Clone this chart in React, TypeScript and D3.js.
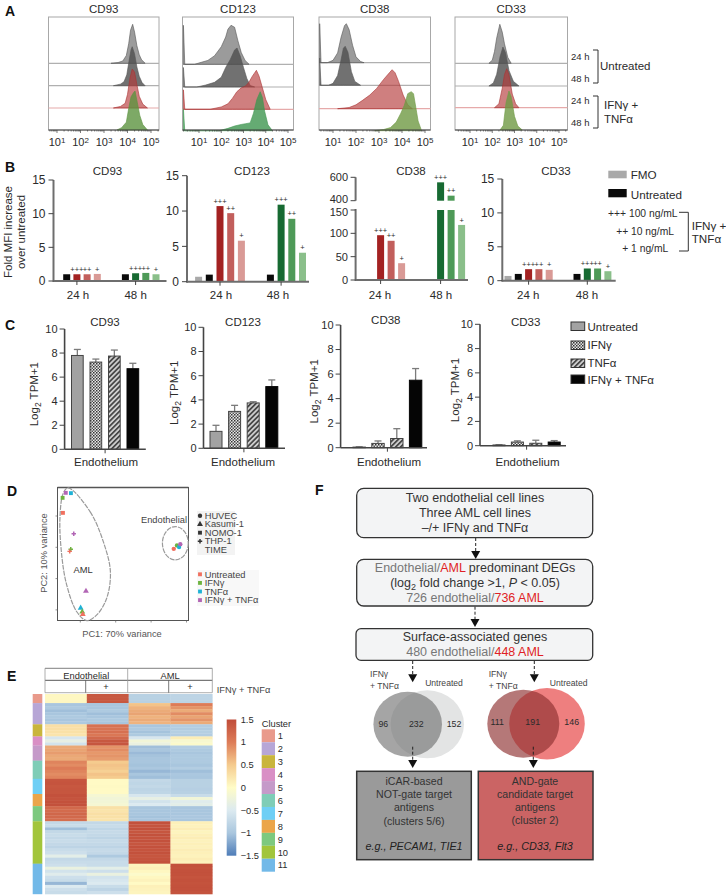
import React from 'react'
import * as d3 from 'd3'

// Panel A: histogram outlines as [log10 intensity, % of mode]
const cd93Hist = [
  [[3.3, 0], [3.6, 2], [3.8, 6], [3.95, 20], [4.05, 50], [4.13, 85], [4.22, 100], [4.3, 80], [4.4, 45], [4.5, 22], [4.6, 9], [4.75, 0]],
  [[3.4, 0], [3.7, 4], [3.85, 10], [3.97, 28], [4.07, 65], [4.15, 92], [4.2, 100], [4.3, 82], [4.4, 48], [4.5, 24], [4.62, 8], [4.75, 0]],
  [[3.4, 0], [3.7, 4], [3.9, 12], [4.0, 35], [4.1, 75], [4.2, 100], [4.3, 92], [4.4, 60], [4.5, 30], [4.65, 10], [4.85, 0]],
  [[3.55, 0], [3.75, 6], [3.95, 20], [4.05, 55], [4.15, 85], [4.25, 95], [4.32, 100], [4.42, 70], [4.52, 38], [4.65, 14], [4.85, 0]],
]
const cd123Hist = [
  [[0.3, 100], [0.36, 0], [0.8, 0], [1.1, 5], [1.4, 10], [1.7, 22], [2, 45], [2.2, 70], [2.3, 90], [2.44, 100], [2.6, 95], [2.75, 60], [2.9, 30], [3.07, 10], [3.25, 0]],
  [[0.3, 50], [0.36, 0], [0.9, 0], [1.3, 5], [1.7, 12], [2, 25], [2.2, 50], [2.4, 70], [2.6, 95], [2.71, 100], [2.85, 80], [3, 50], [3.15, 22], [3.3, 4], [3.5, 0]],
  [[0.3, 50], [0.36, 0], [1.5, 0], [2, 6], [2.3, 14], [2.5, 28], [2.7, 45], [2.9, 55], [3.1, 60], [3.25, 70], [3.4, 85], [3.58, 100], [3.7, 85], [3.85, 55], [4, 25], [4.2, 0]],
  [[0.3, 55], [0.36, 0], [1.9, 0], [2.3, 6], [2.6, 12], [2.9, 16], [3.1, 18], [3.3, 20], [3.45, 45], [3.6, 80], [3.75, 100], [3.85, 85], [3.95, 50], [4.1, 15], [4.3, 0]],
]
const cd38Hist = [
  [[0.42, 100], [0.48, 0], [0.75, 0], [1, 6], [1.2, 25], [1.35, 65], [1.5, 95], [1.58, 100], [1.7, 85], [1.85, 45], [2, 15], [2.2, 3], [2.35, 0]],
  [[0.42, 70], [0.48, 0], [0.8, 0], [1, 5], [1.2, 25], [1.35, 65], [1.45, 95], [1.53, 100], [1.65, 85], [1.8, 35], [1.95, 10], [2.2, 0]],
  [[1.2, 0], [1.7, 3], [2, 10], [2.3, 22], [2.6, 35], [2.9, 52], [3.2, 75], [3.45, 92], [3.57, 100], [3.7, 92], [3.85, 70], [4.05, 35], [4.25, 10], [4.45, 0]],
  [[2.8, 0], [3.2, 3], [3.5, 8], [3.75, 22], [3.95, 45], [4.1, 65], [4.25, 95], [4.4, 100], [4.5, 95], [4.6, 60], [4.7, 25], [4.85, 0]],
]
const cd33Hist = [
  [[1.85, 0], [2, 8], [2.1, 30], [2.2, 65], [2.34, 100], [2.45, 80], [2.55, 50], [2.7, 15], [2.85, 0]],
  [[1.85, 0], [2.05, 8], [2.2, 30], [2.35, 75], [2.48, 100], [2.6, 85], [2.75, 40], [2.95, 12], [3.2, 0]],
  [[2.1, 0], [2.3, 10], [2.45, 50], [2.55, 85], [2.65, 100], [2.75, 85], [2.9, 35], [3.05, 10], [3.2, 0]],
  [[2.35, 0], [2.5, 12], [2.62, 70], [2.75, 100], [2.85, 85], [3, 35], [3.15, 10], [3.35, 0]],
]
const decades = [1, 2, 3, 4, 5]

// Panel B: fold MFI, [FMO, untreated, 100, 10, 1 ng/mL] at 24 h, [untreated, 100, 10, 1] at 48 h
const mfiCD93 = [[0, 1, 1, 1, 1.05], [1, 1.15, 1.2, 1]]
const mfiCD123 = [[0.7, 1, 10.7, 9.7, 5.8], [1, 10.9, 8.9, 4.1]]
const mfiCD38 = [[0, 0, 96, 84, 36], [0, 557, 443, 118]]
const mfiCD33 = [[0.7, 1, 1.7, 1.7, 1.6], [1, 1.8, 1.8, 1.4]]
const plusMarks = ['+++', '++', '+']
const mfiTicks = [0, 5, 10, 15]
const cd38LowTicks = [0, 50, 100, 150]
const cd38HighTicks = [400, 600]

// Panel C: log2 TPM+1, untreated / IFNg / TNFa / both
const tpmCD93 = [7.8, 7.25, 7.75, 6.7]
const tpmCD93Err = [8.3, 7.5, 8.25, 7.15]
const tpmCD123 = [1.4, 3.05, 3.75, 5.1]
const tpmCD123Err = [1.9, 3.55, 3.85, 5.65]
const tpmCD38 = [0.05, 0.35, 0.75, 5.5]
const tpmCD38Err = [0.07, 0.55, 1.55, 6.45]
const tpmCD33 = [0.06, 0.3, 0.2, 0.3]
const tpmCD33Err = [0.08, 0.4, 0.45, 0.42]
const tpmTicks = [0, 2, 4, 6, 8, 10]
const treatments = ['Untreated', 'IFNγ', 'TNFα', 'IFNγ + TNFα']

// Panel D: PCA
const pcaSquares = [[-28.2, 17.4, 3], [-30, 15.8, 1], [-25.3, 17.3, 2], [-29.8, 11, 0]]
const pcaPlus = [[-23.7, 4.3, 3], [-25.4, -0.6, 1], [-26, -1.3, 0]]
const pcaTriangles = [[-16.8, -14, 3], [-19.8, -19.4, 2], [-18.9, -20.6, 1], [-18.6, -21.4, 0]]
const pcaCircles = [[32.8, -0.5, 0], [34.6, 0.6, 1], [35.8, 0.1, 2], [36.5, 1, 3]]
const pcaCrosses = [[38, 3.3, 3], [35.8, 2, 2], [34.8, 1.8, 1], [34.2, 1.8, 0]]
const pcaXTicks = [-20, 0, 20, 40]
const pcaYTicks = [-20, -10, 0, 10]
const amlOutline = [[-26.8, 19], [-14.5, 11.4], [-7, 1.8], [-3, -7.8], [-5.1, -16.3], [-10.7, -21.6], [-16.4, -23.4], [-22, -20.6], [-27.7, -12], [-30.5, -2.5], [-31.5, 9.3], [-29.6, 17.3]]
const cellLines = ['HUVEC', 'Kasumi-1', 'NOMO-1', 'THP-1', 'TIME']
const treatmentColors = ['#f0705f', '#6db33f', '#1fb2d6', '#b266b5']

// Panel E: heatmap rows per column
const clusterRows = [3, 7, 4, 3, 5, 6, 5, 4, 5, 14, 10]
const clusterColors = ['#e99a8b', '#b7a6d6', '#c9b53c', '#d98fc5', '#c59ac9', '#7fcdb7', '#6fcff5', '#eba54a', '#7dc97f', '#a2c53b', '#72b9e8']
const heatEndoMinus = [
  0.05, 0.05, 0.05,
  -1, -0.95, -1.05, -1, -0.95, -1, -0.95,
  0.3, 0.3, 0.28, 0.25,
  -0.55, -0.35, -0.6,
  0.72, 0.75, 0.8, 0.72, 0.7,
  0.95, 0.9, 1, 0.95, 0.9, 0.95,
  1.4, 1.42, 1.38, 1.4, 1.4,
  1.45, 1.42, 1.45, 1.45,
  1.2, 1.18, 1.22, 1.2, 1.15,
  -0.75, -0.7, -1.05, -0.75, -0.7, -0.75, -0.7, -0.75, -0.8, -0.7, -0.65, -0.4, -0.75, -0.7,
  -0.65, -0.3, -0.6, -0.45, -0.65, -0.7, -1.1, -0.5, -0.65, -0.7,
]
const heatEndoPlus = [
  1.38, 1.38, 1.38,
  -1, -1, -0.95, -1.05, -1, -0.95, -1,
  1.1, 1.08, 1.12, 1.05,
  1.2, 1.38, 1.4,
  0.85, 0.9, 0.82, 0.85, 0.8,
  0.5, 0.55, 0.52, 0.45, 0.55, 0.5,
  0.02, 0.02, 0.03, 0.02, 0.02,
  -0.15, -0.2, -0.18, -0.15,
  0.28, 0.25, 0.3, 0.28, 0.25,
  -0.75, -0.7, -0.78, -0.72, -0.75, -0.8, -0.72, -0.75, -0.8, -0.72, -0.75, -0.95, -0.75, -0.7,
  -0.7, -0.4, -0.65, -0.3, -0.6, -0.55, -0.5, -0.7, -0.8, -0.65,
]
const heatAmlMinus = [
  -0.85, -0.85, -0.85,
  0.55, 0.65, 0.7, 0.75, 0.65, 0.7, 0.65,
  -1, -0.95, -1.02, -0.95,
  -0.55, -0.2, -0.3,
  -1.05, -1, -1.08, -1.02, -1,
  -1, -1.02, -0.98, -1.1, -1, -1.05,
  -0.75, -0.78, -0.75, -0.8, -0.78,
  -0.55, -0.35, -0.6, -0.5,
  -1, -1, -1, -1.02, -1,
  1.45, 1.42, 1.45, 1.4, 1.45, 1.42, 1.45, 1.4, 1.45, 1.42, 1.45, 1.4, 1.42, 1.45,
  0.08, 0.12, 0.05, -0.05, 0.05, 0.1, 0.02, 0.12, 0.1, 0.08,
]
const heatAmlPlus = [
  -0.8, -0.8, -0.8,
  1, 0.85, 0.7, 0.9, 0.75, 0.85, 0.7,
  -0.9, -0.92, -0.88, -0.9,
  0.15, -0.1, -0.05,
  -0.9, -0.95, -1, -0.95, -0.95,
  -0.95, -1, -0.9, -1.05, -0.98, -1,
  -0.85, -0.85, -0.85, -0.87, -0.85,
  -0.7, -0.2, -0.45, -0.4,
  -1, -1, -1, -0.98, -1,
  0.12, 0.1, 0.15, 0.08, 0.12, 0.15, 0.1, 0.12, 0.1, 0.15, 0.12, 0.1, 0.15, 0.1,
  1.45, 1.43, 1.45, 1.45, 1.42, 1.45, 1.43, 1.45, 1.45, 1.43,
]
const heatColumns = [heatEndoMinus, heatEndoPlus, heatAmlMinus, heatAmlPlus]
const heatTicks = [1.5, 1, 0.5, 0, -0.5, -1, -1.5]
const heatStops = [-1.5, -1, -0.5, 0, 0.5, 1, 1.5]
const heatColors = ['#4f7db8', '#a9c6de', '#dceaf0', '#fffcc7', '#f5cb8e', '#dd7c58', '#c04c39']

// Panel F: venn counts
const vennLeft = [96, 232, 152]
const vennRight = [111, 191, 146]

const sans = '"Liberation Sans", Arial, sans-serif'
const ink = '#2b2b2b'

const heatScale = d3.scaleLinear<string>().domain(heatStops).range(heatColors)

const Txt = ({ x, y, size = 10, anchor = 'start', fill = ink, children, ...rest }: any) => (
  <text x={x} y={y} dy="0.35em" fontSize={size} textAnchor={anchor} fill={fill} fontFamily={sans} {...rest}>
    {children}
  </text>
)

const rowFills = ['#8a8a8a', '#4d4d4d', '#b53a3a']

const Histogram = ({ title, rows, box, p1, p5, base, green }: any) => {
  const x = d3.scaleLog().domain([10, 100000]).range([p1, p5])
  const y = d3.scaleLinear().domain([0, 100]).range([0, -39])
  const area = d3.area<number[]>().x(d => x(Math.pow(10, d[0]))).y0(0).y1(d => y(d[1]))
  const minor = d3.scaleLog().domain([Math.pow(10, (box[0] - p1) / ((p5 - p1) / 4) + 1), 200000]).range([box[0], x(200000)]).ticks()
  return (
    <g>
      <Txt x={(box[0] + box[1]) / 2} y={9} size={11.5} anchor="middle">{title}</Txt>
      <rect x={box[0]} y={17} width={box[1] - box[0]} height={113} fill="#fff" stroke="#a8a8a8" strokeWidth={1} />
      {rows.map((r: number[][], i: number) => (
        <g key={i} transform={`translate(0,${base[i]})`}>
          {i < 3 && <line x1={box[0]} x2={box[1]} y1={0} y2={0} stroke={i === 2 ? '#e6aaaa' : '#b0b0b0'} strokeWidth={1.2} />}
          <path
            d={area(r) as string}
            fill={i === 3 ? green : rowFills[i]}
            fillOpacity={i === 0 ? 0.85 : i === 1 ? 0.8 : i === 2 ? 0.65 : 0.8}
            stroke={i === 3 ? green : i === 2 ? '#a33' : '#555'}
            strokeWidth={0.6}
          />
        </g>
      ))}
      <line x1={box[0]} x2={box[1]} y1={130} y2={130} stroke="#444" strokeWidth={1} />
      {minor.filter((t: number) => x(t) >= box[0] && x(t) <= box[1]).map((t: number, i: number) => (
        <line key={i} x1={x(t)} x2={x(t)} y1={130} y2={decades.some(d => Math.pow(10, d) === t) ? 133 : 131.5} stroke="#444" strokeWidth={0.7} />
      ))}
      {decades.map(d => (
        <text key={d} x={x(Math.pow(10, d))} y={146} fontSize={11} textAnchor="middle" fill={ink} fontFamily={sans}>
          10<tspan dy={-3.5} fontSize={8}>{d}</tspan>
        </text>
      ))}
    </g>
  )
}

const redShades = ['#a32222', '#c25f5c', '#d99a96']
const greenShades = ['#176a32', '#4e9a58', '#8abf8a']

const MfiPanel = ({ title, titleX, data, axisX, endX, x24, x48, step, yScale, ticks, labelX, barY }: any) => {
  const slot24 = d3.scaleLinear().domain([1, 2]).range([x24, x24 + step])
  const slot48 = d3.scaleLinear().domain([0, 1]).range([x48, x48 + step])
  const y0 = yScale(0)
  const barW = 7
  const bars = (v: number, cx: number, fill: string, k: string, mark?: string) => v > 0 && (
    <g key={k}>
      {barY ? barY(v, cx, barW, fill) : <rect x={cx - barW / 2} y={yScale(v)} width={barW} height={y0 - yScale(v)} fill={fill} />}
      {mark && <Txt x={cx} y={(barY ? barY.top(v) : yScale(v)) - 5} size={7.5} anchor="middle">{mark}</Txt>}
    </g>
  )
  return (
    <g>
      <Txt x={titleX} y={171} size={11.5} anchor="middle">{title}</Txt>
      {data[0].map((v: number, i: number) => bars(v, slot24(i), i === 0 ? '#a9a9a9' : i === 1 ? '#0a0a0a' : redShades[i - 2], `a${i}`, i > 1 ? plusMarks[i - 2] : undefined))}
      {data[1].map((v: number, i: number) => bars(v, slot48(i), i === 0 ? '#0a0a0a' : greenShades[i - 1], `b${i}`, i > 0 ? plusMarks[i - 1] : undefined))}
      <line x1={axisX} x2={endX} y1={y0} y2={y0} stroke="#6e6e6e" strokeWidth={2} />
      {!barY && <line x1={axisX} x2={axisX} y1={yScale(ticks[ticks.length - 1])} y2={y0 + 1} stroke="#6e6e6e" strokeWidth={2} />}
      {!barY && ticks.map((t: number) => (
        <g key={t}>
          <line x1={axisX - 5} x2={axisX} y1={yScale(t)} y2={yScale(t)} stroke="#444" strokeWidth={1} />
          <Txt x={axisX - 8} y={yScale(t)} size={12} anchor="end">{t}</Txt>
        </g>
      ))}
      {[slot24(2), slot48(1)].map((tx: number, i: number) => (
        <line key={i} x1={tx} x2={tx} y1={y0} y2={y0 + 4} stroke="#444" strokeWidth={1} />
      ))}
      <Txt x={labelX[0]} y={295} size={11.5} anchor="middle">24 h</Txt>
      <Txt x={labelX[1]} y={295} size={11.5} anchor="middle">48 h</Txt>
    </g>
  )
}

const TpmPanel = ({ title, titleX, titleY, values, errs, axisX, endX, first, width, step, y0, y10, labelX, ylabelX }: any) => {
  const y = d3.scaleLinear().domain([0, 10]).range([y0, y10])
  const x = d3.scaleLinear().domain([0, 1]).range([first, first + step])
  const fills = ['#a2a2a2', 'url(#hatchCheck)', 'url(#hatchDiag)', '#050505']
  const midX = (x(1.5) + width / 2)
  return (
    <g>
      <Txt x={titleX} y={titleY} size={11.5} anchor="middle">{title}</Txt>
      {values.map((v: number, i: number) => (
        <g key={i}>
          <line x1={x(i) + width / 2} x2={x(i) + width / 2} y1={y(v)} y2={y(errs[i])} stroke="#7b7b7b" strokeWidth={1.3} />
          <line x1={x(i) + width / 2 - 3.5} x2={x(i) + width / 2 + 3.5} y1={y(errs[i])} y2={y(errs[i])} stroke="#7b7b7b" strokeWidth={1.3} />
          <rect x={x(i)} y={y(v)} width={width} height={y0 - y(v)} fill={fills[i]} stroke={i === 3 ? '#050505' : '#444'} strokeWidth={1} />
        </g>
      ))}
      <line x1={axisX} x2={endX} y1={y0} y2={y0} stroke="#444" strokeWidth={1.6} />
      <line x1={axisX} x2={axisX} y1={y10} y2={y0} stroke="#444" strokeWidth={1.6} />
      <line x1={midX} x2={midX} y1={y0} y2={y0 + 4} stroke="#444" strokeWidth={1} />
      {tpmTicks.map(t => (
        <g key={t}>
          <line x1={axisX - 5} x2={axisX} y1={y(t)} y2={y(t)} stroke="#444" strokeWidth={1} />
          <Txt x={axisX - 7} y={y(t)} size={11} anchor="end">{t}</Txt>
        </g>
      ))}
      <Txt x={labelX} y={462} size={11.5} anchor="middle">Endothelium</Txt>
      <text transform={`translate(${ylabelX},${(y0 + y10) / 2 + 5}) rotate(-90)`} fontSize={11.5} textAnchor="middle" fill={ink} fontFamily={sans}>
        Log<tspan dy={3} fontSize={8.5}>2</tspan><tspan dy={-3}> TPM+1</tspan>
      </text>
    </g>
  )
}

const Arrow = ({ x, y1, tip }: any) => (
  <g>
    <line x1={x} x2={x} y1={y1} y2={tip - 7} stroke="#222" strokeWidth={1} strokeDasharray="3 2" />
    <path d={`M${x - 4.5},${tip - 8} L${x + 4.5},${tip - 8} L${x},${tip} Z`} fill="#111" />
  </g>
)

const Bracket = ({ x1, x2, y1, y2, color = '#333' }: any) => (
  <path d={`M${x1},${y1} H${x2} V${y2} H${x1}`} fill="none" stroke={color} strokeWidth={1} />
)

const Mini = ({ x, y, kind, color = '#333' }: any) => {
  const types: any = { circle: d3.symbolCircle, triangle: d3.symbolTriangle, square: d3.symbolSquare, plus: d3.symbolCross, cross: d3.symbolX }
  const size = kind === 'plus' || kind === 'cross' ? 11 : 15
  const sym = d3.symbol().type(types[kind]).size(size)
  return <path transform={`translate(${x},${y})`} d={sym() as string} fill={color} />
}

const App = () => {
  // CD38 has a broken axis
  const cd38Low = d3.scaleLinear().domain([0, 150]).range([280, 210])
  const cd38High = d3.scaleLinear().domain([400, 600]).range([200.7, 177.3])
  const cd38Top = (v: number) => (v >= 400 ? cd38High(v) : cd38Low(Math.min(v, 150)))
  const cd38Bar: any = (v: number, cx: number, w: number, fill: string) => (
    <g>
      <rect x={cx - w / 2} y={cd38Low(Math.min(v, 150))} width={w} height={280 - cd38Low(Math.min(v, 150))} fill={fill} />
      {v >= 400 && <rect x={cx - w / 2} y={cd38High(v)} width={w} height={200.7 - cd38High(v)} fill={fill} />}
    </g>
  )
  cd38Bar.top = cd38Top

  const pcaX = d3.scaleLinear().domain([-20, 40]).range([80.3, 186.5])
  const pcaY = d3.scaleLinear().domain([-20, 10]).range([609.9, 516])
  const amlPath = d3.line<number[]>().x(d => pcaX(d[0])).y(d => pcaY(d[1])).curve(d3.curveCatmullRomClosed)

  const heatRows = d3.sum(clusterRows)
  const rowY = d3.scaleLinear().domain([0, heatRows]).range([694, 894])
  const heatX = d3.scaleLinear().domain([0, 4]).range([45, 212.3])
  const barY = d3.scaleLinear().domain([-1.5, 1.5]).range([855.7, 719.5])
  const clusterY = d3.scaleLinear().domain([0, 11]).range([729.3, 871.7])
  let rowStart = 0
  const clusterStarts = clusterRows.map(n => { const s = rowStart; rowStart += n; return s })

  return (
    <svg width={726} height={895} viewBox="0 0 726 895" style={{ position: 'absolute', left: 0, top: 0, display: 'block', background: '#fff' }}>
      <defs>
        <pattern id="hatchCheck" width={3} height={3} patternUnits="userSpaceOnUse">
          <rect width={3} height={3} fill="#e8e8e8" />
          <rect width={1.5} height={1.5} fill="#333" />
          <rect x={1.5} y={1.5} width={1.5} height={1.5} fill="#555" />
        </pattern>
        <pattern id="hatchDiag" width={3.5} height={3.5} patternUnits="userSpaceOnUse" patternTransform="rotate(45)">
          <rect width={3.5} height={3.5} fill="#cfcfcf" />
          <rect width={1.7} height={3.5} fill="#444" />
        </pattern>
        <linearGradient id="heatBar" x1={0} x2={0} y1={1} y2={0}>
          {heatStops.map((s, i) => <stop key={s} offset={i / 6} stopColor={heatColors[i]} />)}
        </linearGradient>
      </defs>

      {/* panel letters */}
      <Txt x={5} y={11} size={14} fontWeight="bold" fill="#111">A</Txt>
      <Txt x={5} y={167} size={14} fontWeight="bold" fill="#111">B</Txt>
      <Txt x={5} y={325} size={14} fontWeight="bold" fill="#111">C</Txt>
      <Txt x={7} y={491} size={14} fontWeight="bold" fill="#111">D</Txt>
      <Txt x={7} y={676} size={14} fontWeight="bold" fill="#111">E</Txt>
      <Txt x={315} y={490} size={14} fontWeight="bold" fill="#111">F</Txt>

      {/* A */}
      <Histogram title="CD93" rows={cd93Hist} box={[48.5, 159]} p1={57} p5={151} base={[63.3, 85.7, 108, 130]} green="#5d9440" />
      <Histogram title="CD123" rows={cd123Hist} box={[182.5, 293.5]} p1={199} p5={288} base={[64.3, 87, 109.3, 130.7]} green="#3f9650" />
      <Histogram title="CD38" rows={cd38Hist} box={[319, 430.5]} p1={333} p5={425} base={[62.7, 85.3, 108.7, 130.7]} green="#6f9a44" />
      <Histogram title="CD33" rows={cd33Hist} box={[455, 567.5]} p1={470} p5={559} base={[63.3, 86, 107.7, 130]} green="#6f9a44" />
      <Txt x={571} y={57} size={9.5}>24 h</Txt>
      <Txt x={571} y={79} size={9.5}>48 h</Txt>
      <Txt x={571} y={101} size={9.5}>24 h</Txt>
      <Txt x={571} y={123} size={9.5}>48 h</Txt>
      <Bracket x1={593} x2={598} y1={50} y2={83} />
      <Bracket x1={593} x2={598} y1={96} y2={128} />
      <Txt x={600} y={66} size={11.5}>Untreated</Txt>
      <Txt x={604} y={105} size={11.5}>IFNγ +</Txt>
      <Txt x={604} y={118.5} size={11.5}>TNFα</Txt>

      {/* B */}
      <text transform="translate(12,232) rotate(-90)" fontSize={11.5} textAnchor="middle" fill={ink} fontFamily={sans}>Fold MFI increase</text>
      <text transform="translate(25,232) rotate(-90)" fontSize={11.5} textAnchor="middle" fill={ink} fontFamily={sans}>over untreated</text>
      <MfiPanel title="CD93" titleX={107.5} data={mfiCD93} axisX={53.5} endX={166.5} x24={66.7} x48={125.4} step={10.2}
        yScale={d3.scaleLinear().domain([0, 15]).range([281, 180])} ticks={mfiTicks} labelX={[78, 135.6]} />
      <MfiPanel title="CD123" titleX={252} data={mfiCD123} axisX={187} endX={309} x24={209.3} x48={270.4} step={10.7}
        yScale={d3.scaleLinear().domain([0, 15]).range([281.7, 175.7])} ticks={mfiTicks} labelX={[221, 278]} />
      <MfiPanel title="CD38" titleX={411} data={mfiCD38} axisX={355.6} endX={468} x24={370.1} x48={430.1} step={10.5}
        yScale={cd38Low} ticks={cd38LowTicks} labelX={[380, 441]} barY={cd38Bar} />
      <line x1={355.6} x2={355.6} y1={177.3} y2={200.7} stroke="#6e6e6e" strokeWidth={2} />
      <line x1={355.6} x2={355.6} y1={209} y2={281} stroke="#6e6e6e" strokeWidth={2} />
      {cd38LowTicks.map(t => (
        <g key={t}>
          <line x1={350.6} x2={355.6} y1={cd38Low(t)} y2={cd38Low(t)} stroke="#444" strokeWidth={1} />
          <Txt x={348} y={cd38Low(t) + (t === 150 ? 2 : 0)} size={11} anchor="end">{t}</Txt>
        </g>
      ))}
      {cd38HighTicks.map(t => (
        <g key={t}>
          <line x1={350.6} x2={355.6} y1={cd38High(t)} y2={cd38High(t)} stroke="#444" strokeWidth={1} />
          <Txt x={348} y={cd38High(t) - (t === 400 ? 2 : 0)} size={11} anchor="end">{t}</Txt>
        </g>
      ))}
      <MfiPanel title="CD33" titleX={556} data={mfiCD33} axisX={502.3} endX={615.7} x24={518.3} x48={577} step={10.3}
        yScale={d3.scaleLinear().domain([0, 15]).range([280.7, 179])} ticks={mfiTicks} labelX={[528.3, 587]} />
      <rect x={608.3} y={170.7} width={18.4} height={7.6} fill="#a9a9a9" />
      <Txt x={630.7} y={175} size={11.7}>FMO</Txt>
      <rect x={608.3} y={189} width={18.4} height={8.3} fill="#0a0a0a" />
      <Txt x={630.7} y={195} size={11.7}>Untreated</Txt>
      <Txt x={608} y={213.3} size={10.3}>+++ 100 ng/mL</Txt>
      <Txt x={674} y={231} size={10.3} anchor="end">++ 10 ng/mL</Txt>
      <Txt x={668.3} y={248.3} size={10.3} anchor="end">+ 1 ng/mL</Txt>
      <Bracket x1={679} x2={688.3} y1={212.3} y2={251} />
      <Txt x={691.7} y={225.7} size={11.7}>IFNγ +</Txt>
      <Txt x={691.7} y={239} size={11.7}>TNFα</Txt>

      {/* C */}
      <TpmPanel title="CD93" titleX={105} titleY={322} values={tpmCD93} errs={tpmCD93Err} axisX={64.6} endX={145.8} first={71.5} width={11.7} step={18.5} y0={449.3} y10={329} labelX={106} ylabelX={38} />
      <TpmPanel title="CD123" titleX={243} titleY={322} values={tpmCD123} errs={tpmCD123Err} axisX={203.5} endX={285} first={210} width={12} step={18.6} y0={448.3} y10={327.3} labelX={243} ylabelX={178} />
      <TpmPanel title="CD38" titleX={385.8} titleY={320} values={tpmCD38} errs={tpmCD38Err} axisX={340.6} endX={427} first={353} width={12.4} step={18.8} y0={447.7} y10={325} labelX={389} ylabelX={318} />
      <TpmPanel title="CD33" titleX={525.6} titleY={322} values={tpmCD33} errs={tpmCD33Err} axisX={480} endX={566} first={493} width={12} step={18.4} y0={445.7} y10={324.3} labelX={527.5} ylabelX={459} />
      {treatments.map((t, i) => (
        <g key={t}>
          <rect x={571} y={[322, 341, 359, 375][i]} width={13.7} height={8.5} fill={['#a2a2a2', 'url(#hatchCheck)', 'url(#hatchDiag)', '#050505'][i]} stroke="#333" strokeWidth={1} />
          <Txt x={587.5} y={[327, 345, 363, 380][i]} size={11.5}>{t}</Txt>
        </g>
      ))}

      {/* D */}
      <rect x={57.5} y={487.5} width={131} height={133} fill="#fff" stroke="#555" strokeWidth={1} />
      <line x1={57.5} x2={188.5} y1={487.5} y2={487.5} stroke="#555" strokeWidth={1.5} />
      {pcaXTicks.map(t => <line key={t} x1={pcaX(t)} x2={pcaX(t)} y1={620.5} y2={622.5} stroke="#666" strokeWidth={0.7} />)}
      {pcaYTicks.map(t => <line key={t} x1={55.5} x2={57.5} y1={pcaY(t)} y2={pcaY(t)} stroke="#666" strokeWidth={0.7} />)}
      <path d={amlPath(amlOutline) as string} fill="none" stroke="#9a9a9a" strokeWidth={1.2} strokeDasharray="5 1" />
      <ellipse cx={pcaX(33.7)} cy={pcaY(1.3)} rx={pcaX(7.3) - pcaX(0)} ry={pcaY(0) - pcaY(5.3)} fill="none" stroke="#9a9a9a" strokeWidth={1.2} strokeDasharray="5 1" />
      {pcaSquares.map((p, i) => <Mini key={i} x={pcaX(p[0])} y={pcaY(p[1])} kind="square" color={treatmentColors[p[2]]} />)}
      {pcaPlus.map((p, i) => <Mini key={i} x={pcaX(p[0])} y={pcaY(p[1])} kind="plus" color={treatmentColors[p[2]]} />)}
      {pcaTriangles.map((p, i) => <Mini key={i} x={pcaX(p[0])} y={pcaY(p[1])} kind="triangle" color={treatmentColors[p[2]]} />)}
      {pcaCrosses.map((p, i) => <Mini key={i} x={pcaX(p[0])} y={pcaY(p[1])} kind="cross" color={treatmentColors[p[2]]} />)}
      {pcaCircles.map((p, i) => <Mini key={i} x={pcaX(p[0])} y={pcaY(p[1])} kind="circle" color={treatmentColors[p[2]]} />)}
      <Txt x={164} y={520} size={9.3} anchor="middle" fill="#444">Endothelial</Txt>
      <Txt x={83} y={570} size={9.3} anchor="middle" fill="#333">AML</Txt>
      <Txt x={122} y={634} size={9.3} anchor="middle" fill="#555">PC1: 70% variance</Txt>
      <text transform="translate(47,553) rotate(-90)" fontSize={9.3} textAnchor="middle" fill="#555" fontFamily={sans}>PC2: 10% variance</text>
      <rect x={197} y={511} width={38} height={44} fill="#f3f3f3" />
      <rect x={197} y={570} width={62} height={36} fill="#f8f8f8" />
      {cellLines.map((c, i) => (
        <g key={c}>
          <Mini x={200} y={515.7 + i * 8.5} kind={['circle', 'triangle', 'square', 'plus', 'cross'][i]} color="#333" />
          <Txt x={204.7} y={515.7 + i * 8.5} size={9.3} fill="#444">{c}</Txt>
        </g>
      ))}
      {treatments.map((t, i) => (
        <g key={t}>
          <Mini x={200} y={574.3 + i * 8.6} kind="square" color={treatmentColors[i]} />
          <Txt x={204.7} y={574.3 + i * 8.6} size={9.3} fill="#444">{t}</Txt>
        </g>
      ))}

      {/* E */}
      <line x1={45} x2={212.3} y1={668.3} y2={668.3} stroke="#999" strokeWidth={1.2} />
      <line x1={45} x2={212.3} y1={680.3} y2={680.3} stroke="#444" strokeWidth={0.9} />
      <line x1={45} x2={212.3} y1={692.7} y2={692.7} stroke="#999" strokeWidth={0.8} />
      <line x1={45} x2={45} y1={668.3} y2={692.7} stroke="#999" strokeWidth={0.8} />
      <line x1={212.3} x2={212.3} y1={668.3} y2={692.7} stroke="#999" strokeWidth={0.8} />
      <line x1={127.7} x2={127.7} y1={668.3} y2={692.7} stroke="#999" strokeWidth={0.8} />
      <line x1={85.7} x2={85.7} y1={680.3} y2={692.7} stroke="#555" strokeWidth={0.8} />
      <line x1={168.7} x2={168.7} y1={680.3} y2={692.7} stroke="#555" strokeWidth={0.8} />
      <Txt x={86.3} y={675.5} size={9.3} anchor="middle">Endothelial</Txt>
      <Txt x={170} y={675.5} size={9.3} anchor="middle">AML</Txt>
      <Txt x={106} y={687} size={9.3} anchor="middle">+</Txt>
      <Txt x={190} y={687} size={9.3} anchor="middle">+</Txt>
      <Txt x={216.7} y={690} size={9.3} fill="#444">IFNγ + TNFα</Txt>
      {heatColumns.map((col, c) => col.map((v, r) => (
        <rect key={`${c}-${r}`} x={heatX(c)} y={rowY(r)} width={heatX(c + 1) - heatX(c) + 0.3} height={rowY(r + 1) - rowY(r) + 0.3} fill={heatScale(v)} />
      )))}
      {clusterRows.map((n, i) => (
        <rect key={i} x={32.7} y={rowY(clusterStarts[i])} width={9.6} height={rowY(clusterStarts[i] + n) - rowY(clusterStarts[i]) + 0.2} fill={clusterColors[i]} />
      ))}
      <rect x={226.7} y={719.5} width={9.6} height={136.2} fill="url(#heatBar)" />
      {heatTicks.map(t => (
        <Txt key={t} x={240.7} y={barY(t)} size={9.3}>{t < 0 ? `−${Math.abs(t)}` : t}</Txt>
      ))}
      <Txt x={261.7} y={723.7} size={9.3}>Cluster</Txt>
      {clusterColors.map((c, i) => (
        <g key={c}>
          <rect x={261.7} y={clusterY(i)} width={13.3} height={clusterY(1) - clusterY(0)} fill={c} />
          <Txt x={277.7} y={clusterY(i + 0.5)} size={9.3}>{i + 1}</Txt>
        </g>
      ))}

      {/* F */}
      <rect x={356.7} y={488.3} width={236} height={49.4} rx={7} fill="#f3f4f5" stroke="#333" strokeWidth={1.3} />
      <Txt x={475} y={497.5} size={12.5} anchor="middle" fill="#333">Two endothelial cell lines</Txt>
      <Txt x={475} y={512.5} size={12.5} anchor="middle" fill="#333">Three AML cell lines</Txt>
      <Txt x={475} y={527.5} size={12.5} anchor="middle" fill="#333">–/+ IFNγ and TNFα</Txt>
      <Arrow x={475.7} y1={538} tip={559} />
      <rect x={356.7} y={559.3} width={236} height={46.7} rx={7} fill="#f3f4f5" stroke="#333" strokeWidth={1.3} />
      <Txt x={475} y={567.5} size={12.5} anchor="middle" fill="#333">
        <tspan fill="#777">Endothelial/</tspan><tspan fill="#e01f26">AML</tspan> predominant DEGs
      </Txt>
      <text x={475} y={586.5} fontSize={12.5} textAnchor="middle" fill="#333" fontFamily={sans}>
        (log<tspan dy={3} fontSize={9}>2</tspan><tspan dy={-3}> fold change &gt;1, </tspan><tspan fontStyle="italic">P</tspan> &lt; 0.05)
      </text>
      <Txt x={475} y={597.5} size={12.5} anchor="middle" fill="#777">
        726 endothelial/<tspan fill="#e01f26">736 AML</tspan>
      </Txt>
      <Arrow x={475} y1={606.7} tip={627} />
      <rect x={356} y={628.7} width={236.7} height={31.6} rx={5} fill="#f3f4f5" stroke="#333" strokeWidth={1.3} />
      <Txt x={475} y={637} size={12.5} anchor="middle" fill="#333">Surface-associated genes</Txt>
      <Txt x={475} y={651.7} size={12.5} anchor="middle" fill="#777">
        480 endothelial/<tspan fill="#e01f26">448 AML</tspan>
      </Txt>
      <Arrow x={412.7} y1={661} tip={682.3} />
      <Arrow x={534.3} y1={661} tip={682.3} />

      <ellipse cx={427.3} cy={724.3} rx={36.7} ry={34} fill="#e3e4e4" />
      <ellipse cx={407.7} cy={724.3} rx={34.3} ry={32.5} fill="#6e6e6e" fillOpacity={0.62} />
      <ellipse cx={547} cy={723.7} rx={37.8} ry={35.7} fill="#ee7f7f" />
      <ellipse cx={523.3} cy={723.7} rx={36} ry={34} fill="#8e2f2f" fillOpacity={0.65} />
      {vennLeft.map((v, i) => <Txt key={v} x={[383.3, 416.3, 454][i]} y={724.3} size={8.8} anchor="middle">{v}</Txt>)}
      {vennRight.map((v, i) => <Txt key={v} x={[497.3, 532.7, 571.7][i]} y={721.7} size={8.8} anchor="middle">{v}</Txt>)}
      <Txt x={370} y={674.3} size={8.6} fill="#444">IFNγ</Txt>
      <Txt x={370} y={686} size={8.6} fill="#444">+ TNFα</Txt>
      <Txt x={444} y={683} size={8.6} anchor="middle" fill="#444">Untreated</Txt>
      <Txt x={488.7} y={674.3} size={8.6} fill="#444">IFNγ</Txt>
      <Txt x={488.7} y={686} size={8.6} fill="#444">+ TNFα</Txt>
      <Txt x={568.7} y={683} size={8.6} anchor="middle" fill="#444">Untreated</Txt>
      <Arrow x={412.7} y1={746.7} tip={768} />
      <Arrow x={533.3} y1={746.7} tip={768} />

      <rect x={356.7} y={771.3} width={114.6} height={88.4} fill="#9a9a9a" stroke="#333" strokeWidth={1.5} />
      {['iCAR-based', 'NOT-gate target', 'antigens', '(clusters 5/6)'].map((t, i) => (
        <Txt key={t} x={414} y={781.3 + i * 13.2} size={10.6} anchor="middle" fill="#333">{t}</Txt>
      ))}
      <Txt x={414} y={846.7} size={10.8} anchor="middle" fill="#222" fontStyle="italic">e.g., PECAM1, TIE1</Txt>
      <rect x={478.3} y={771.3} width={114.7} height={88.4} fill="#cb6464" stroke="#333" strokeWidth={1.5} />
      {['AND-gate', 'candidate target', 'antigens', '(cluster 2)'].map((t, i) => (
        <Txt key={t} x={535} y={781.3 + i * 13} size={10.6} anchor="middle" fill="#333">{t}</Txt>
      ))}
      <Txt x={535} y={846.7} size={10.8} anchor="middle" fill="#222" fontStyle="italic">e.g., CD33, Flt3</Txt>
    </svg>
  )
}

export default App
